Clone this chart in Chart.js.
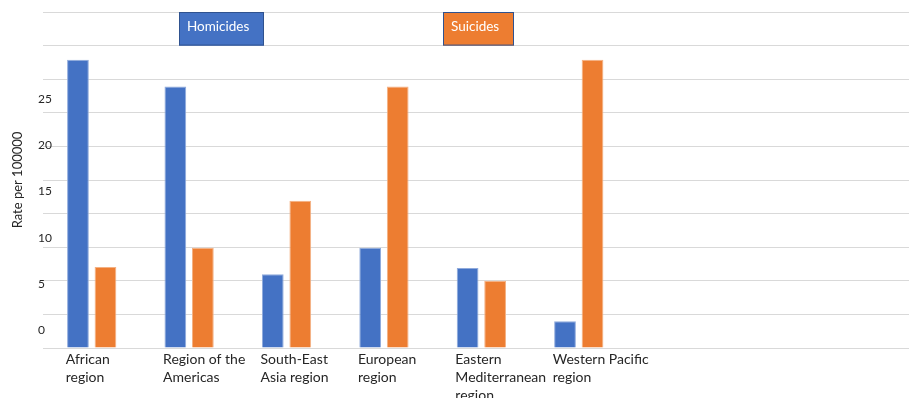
<!DOCTYPE html>
<html>
<head>
<meta charset="utf-8">
<script src="https://cdn.jsdelivr.net/npm/chart.js@4/dist/chart.umd.min.js"></script>
<style>
    html, body { margin: 0; padding: 0; background: #ffffff; }
    #wrap { width: 909px; height: 398px; position: relative; }
</style>
</head>
<body>
<div id="wrap"><canvas id="rates"></canvas></div>
<script>
// Regions (x axis), one entry per group of bars
const REGIONS = [
    ['African', 'region'],
    ['Region of the', 'Americas'],
    ['South-East', 'Asia region'],
    ['European', 'region'],
    ['Eastern', 'Mediterranean', 'region'],
    ['Western Pacific', 'region']
];

// Rates per 100000
const HOMICIDES = [31.3, 28.4, 8.0, 10.9, 8.7, 2.9];
const SUICIDES = [8.8, 10.9, 16.0, 28.4, 7.3, 31.3];

// Labels printed on the value axis
const Y_TICKS = [0, 5, 10, 15, 20, 25];

const BLUE = '#4472c4';
const ORANGE = '#ed7d31';

Chart.defaults.font.family = 'Lato';
Chart.defaults.color = '#262626';

// Text boxes naming each series, drawn in the top band of the plot
const seriesBoxes = {
    id: 'seriesBoxes',
    afterDatasetsDraw(chart, args, opts) {
        const { ctx, chartArea, scales } = chart;
        const h = chartArea.height / 10;
        ctx.save();
        ctx.font = '13.5px Lato';
        ctx.textBaseline = 'alphabetic';
        chart.data.datasets.forEach((ds, i) => {
            const left = Math.round(scales.x.getPixelForValue(opts.at[i]));
            const top = Math.round(chartArea.top);
            const w = Math.round(ctx.measureText(ds.label).width + 23);
            ctx.fillStyle = ds.backgroundColor;
            ctx.fillRect(left, top, w, h);
            ctx.strokeStyle = opts.borderColor;
            ctx.lineWidth = 1;
            ctx.strokeRect(left + 0.5, top + 0.5, w - 1, h - 1);
            ctx.fillStyle = '#ffffff';
            ctx.fillText(ds.label, left + 8, top + 18.5);
        });
        ctx.restore();
    }
};

const points = (arr) => arr.map((v, i) => ({ x: i, y: v }));

new Chart(document.getElementById('rates'), {
    type: 'bar',
    data: {
        datasets: [{
            label: 'Homicides',
            data: points(HOMICIDES),
            backgroundColor: BLUE,
            borderColor: '#8faadc',
            borderWidth: 1,
            categoryPercentage: 0.565,
            barPercentage: 0.79
        }, {
            label: 'Suicides',
            data: points(SUICIDES),
            backgroundColor: ORANGE,
            borderColor: '#f4b183',
            borderWidth: 1,
            categoryPercentage: 0.565,
            barPercentage: 0.79
        }]
    },
    options: {
        responsive: true,
        maintainAspectRatio: false,
        animation: false,
        layout: { padding: { top: 12, right: 0, bottom: 0, left: 0 } },
        plugins: {
            legend: { display: false },
            tooltip: { enabled: false },
            seriesBoxes: { at: [0.9, 3.61], borderColor: '#2f528f' }
        },
        scales: {
            x: {
                type: 'linear',
                offset: false,
                min: -0.5,
                max: 8.39,
                grid: { display: false, drawTicks: false },
                border: { display: false },
                afterBuildTicks: (axis) => {
                    axis.ticks = REGIONS.map((r, i) => ({ value: i }));
                },
                afterFit: (axis) => { axis.height = 50; },
                ticks: {
                    align: 'start',
                    labelOffset: -26,
                    padding: 2,
                    autoSkip: false,
                    maxRotation: 0,
                    font: { size: 14, lineHeight: 1.3 },
                    callback: (value) => REGIONS[value] || ''
                }
            },
            y: {
                position: 'left',
                min: 0,
                max: 36.5,
                ticks: { display: false, count: 11 },
                grid: { color: '#d9d9d9', lineWidth: 1, drawTicks: false },
                border: { display: false },
                afterFit: (axis) => { axis.width = 0; }
            },
            yLabel: {
                position: 'left',
                min: -1.92,
                max: 34.43,
                grid: { display: false, drawTicks: false },
                border: { display: false },
                afterBuildTicks: (axis) => {
                    axis.ticks = Y_TICKS.map(v => ({ value: v }));
                },
                afterFit: (axis) => { axis.width = 43; },
                ticks: {
                    mirror: true,
                    padding: -5,
                    font: { size: 12 }
                },
                title: {
                    display: true,
                    text: 'Rate per 100000',
                    font: { size: 13 },
                    padding: { top: 10, bottom: 4 }
                }
            }
        }
    },
    plugins: [seriesBoxes]
});
</script>
</body>
</html>
